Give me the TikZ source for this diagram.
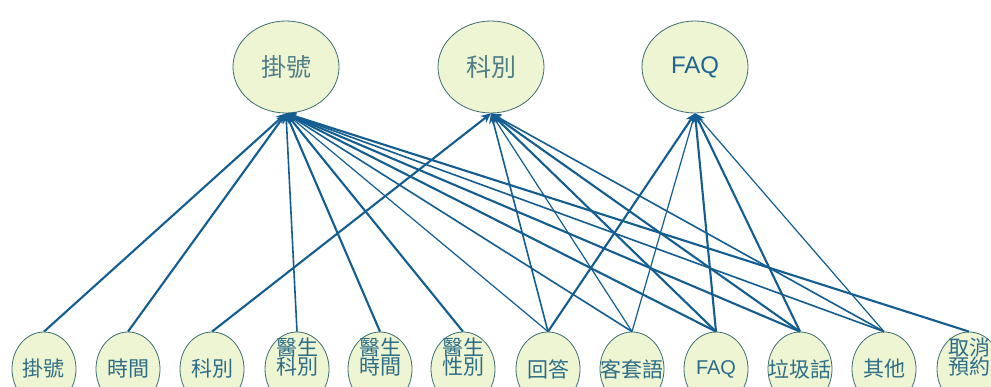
\documentclass[tikz,border=0pt]{standalone}
\usepackage{fontspec}
\newfontfamily\cjk{Noto Sans CJK TC}
\newfontfamily\latinsans{Liberation Sans}
\usetikzlibrary{shapes.geometric,arrows.meta}
\definecolor{edgecol}{HTML}{135D90}
\definecolor{fillcol}{HTML}{EEF5D2}
\definecolor{bordercol}{HTML}{3D6E72}
\definecolor{topcjk}{HTML}{4F7D88}
\definecolor{botcjk}{HTML}{2D6D88}
\definecolor{faqcol}{HTML}{1E6494}
\tikzset{
  topnode/.style={ellipse,draw=bordercol,line width=0.8pt,fill=fillcol,minimum width=106pt,minimum height=92pt,inner sep=0pt},
  botnode/.style={ellipse,draw=bordercol,line width=0.8pt,fill=fillcol,minimum width=64pt,minimum height=74pt,inner sep=0pt},
  toptext/.style={font=\cjk\fontsize{25}{27}\selectfont,text=topcjk,inner sep=0pt},
  faqtext/.style={font=\latinsans\fontsize{24}{26}\selectfont,text=faqcol,inner sep=0pt},
  bottext/.style={font=\cjk\fontsize{21}{22}\selectfont,text=botcjk,inner sep=0pt,align=center},
  botfaq/.style={font=\latinsans\fontsize{20}{22}\selectfont,text=botcjk,inner sep=0pt},
  link/.style={draw=edgecol,line width=2.1pt,-{Stealth[length=10pt,width=9pt]}},
  thin link/.style={link,line width=1.2pt},
  mid link/.style={link,line width=1.6pt}
}
\begin{document}
\begin{tikzpicture}[x=1pt,y=-1pt]
\fill[white] (0,0) rectangle (991,387);
\clip (0,0) rectangle (991,387);
% top nodes
\node[topnode] (T1) at (286,67) {};
\node[topnode] (T2) at (491,67) {};
\node[topnode] (T3) at (695,67) {};
% bottom nodes
\foreach \n/\x in {B1/44,B2/128,B3/212,B4/297,B5/380,B6/463,B7/548,B8/632,B9/716,B10/800,B11/884,B12/969}
  \node[botnode] (\n) at (\x,369) {};
% edges
\foreach \b/\w in {B1/link,B2/link,B4/mid link,B5/link,B6/link,B7/thin link,B8/mid link,B9/link,B10/link,B11/mid link,B12/link}
  \draw[\w] (\b.north) -- (T1.south);
\foreach \b/\w in {B3/link,B7/mid link,B8/thin link,B9/link,B10/link,B11/mid link}
  \draw[\w] (\b.north) -- (T2.south);
\foreach \b/\w in {B7/link,B8/thin link,B9/link,B10/link,B11/thin link}
  \draw[\w] (\b.north) -- (T3.south);
% texts
\node[toptext] (t1) at (T1.center) {掛號};
\node[toptext] (t2) at (T2.center) {科別};
\node[faqtext] (t3) at (T3.center) {FAQ};
\node[bottext] (b1) at (44,369) {掛號};
\node[bottext] (b2) at (128,369) {時間};
\node[bottext] (b3) at (212,369) {科別};
\node[bottext] (b4) at (297,357) {醫生\\[-3pt]科別};
\node[bottext] (b5) at (380,357) {醫生\\[-3pt]時間};
\node[bottext] (b6) at (463,357) {醫生\\[-3pt]性別};
\node[bottext] (b7) at (548,369) {回答};
\node[bottext] (b8) at (632,369) {客套語};
\node[botfaq] (b9) at (716,369) {FAQ};
\node[bottext] (b10) at (800,369) {垃圾話};
\node[bottext] (b11) at (884,369) {其他};
\node[bottext] (b12) at (969,357) {取消\\[-3pt]預約};
\end{tikzpicture}
\end{document}
